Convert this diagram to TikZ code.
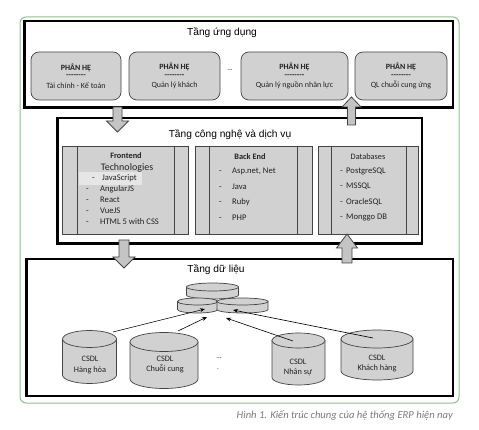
\documentclass[tikz,border=0pt]{standalone}
\usepackage{fontspec}
\setmainfont{Carlito}
\newfontfamily\arialfont{Liberation Sans}
\usepackage{tikz}
\usetikzlibrary{positioning,arrows.meta}

\definecolor{framegreen}{HTML}{8DC08D}
\definecolor{boxgray}{HTML}{D1D1D1}
\definecolor{edgegray}{HTML}{444444}
\definecolor{arrowgray}{HTML}{C4C4C4}
\definecolor{capgray}{HTML}{7A7A7A}
\definecolor{textgray}{HTML}{222222}

% dashes without the TeX ligature
\newcommand{\sepline}{\textbf{-\kern0pt-\kern0pt-\kern0pt-\kern0pt-\kern0pt-\kern0pt-\kern0pt-}}

% database cylinder: name, cx, top y, half width, ellipse ry, body height
\newcommand{\dbcyl}[6]{%
  \filldraw[db] ({#2-#4},#3) -- ({#2-#4},{#3+#6}) arc (180:360:#4pt and #5pt) -- ({#2+#4},#3) -- cycle;
  \filldraw[db] (#2,#3) ellipse (#4pt and #5pt);
  \coordinate (#1) at (#2,#3);
}

\tikzset{
  layerbox/.style={draw=black, line width=2.5pt, fill=white, inner sep=0pt},
  layertitle/.style={font=\arialfont\fontsize{10.2}{12}\selectfont, inner sep=0pt},
  module/.style={draw=edgegray, fill=boxgray, rounded corners=8pt, line width=0.7pt,
    minimum height=48pt, align=center, inner sep=0pt, text=textgray,
    font=\fontsize{8}{9}\selectfont},
  panelbox/.style={draw=edgegray, fill=boxgray, line width=0.6pt, minimum height=88pt, inner sep=0pt},
  paneltitle/.style={inner sep=0pt, text=textgray},
  item/.style={anchor=west, inner sep=0pt, text height=5.5pt, text depth=1.5pt,
    text=textgray, font=\fontsize{8.6}{10}\selectfont},
  blockarrow/.style={draw=edgegray, fill=arrowgray, line width=0.8pt},
  db/.style={draw=edgegray, fill=boxgray, line width=0.7pt},
  dblabel/.style={align=center, inner sep=0pt, text=textgray, font=\fontsize{8.3}{10.5}\selectfont},
  link/.style={-{Stealth[length=5pt,width=4pt]}, line width=0.6pt},
  smalldots/.style={inner sep=0pt, text=textgray, font=\fontsize{7}{8}\selectfont},
  caption/.style={inner sep=0pt, text=capgray, font=\itshape\fontsize{10.6}{12}\selectfont}
}

\begin{document}
\begin{tikzpicture}[x=1pt,y=-1pt]
\useasboundingbox (0,0) rectangle (479,430);

% outer frame
\draw[framegreen, line width=1pt, fill=white, rounded corners=6pt] (20,17) rectangle (459,403);

% layers
\node[layerbox, minimum width=428.5pt, minimum height=86.5pt] (app) at (238.5,64.5) {};
\node[layerbox, minimum width=364.5pt, minimum height=125.5pt] (tech) at (239.5,181) {};
\node[layerbox, minimum width=426.5pt, minimum height=136.5pt] (data) at (239.5,327.5) {};

\node[layertitle] (apptitle) at (222,33) {Tầng ứng dụng};
\node[layertitle] (techtitle) at (230,135) {Tầng công nghệ và dịch vụ};
\node[layertitle] (datatitle) at (216,270) {Tầng dữ liệu};

% application modules
\node[module, minimum width=90pt] (m1) at (76,76) {\textbf{PHÂN HỆ}\\[-1.5pt]\sepline\\[1.5pt]Tài chính - Kế toán};
\node[module, minimum width=91pt] (m2) at (174.5,76) {\textbf{PHÂN HỆ}\\[-1.5pt]\sepline\\[1.5pt]Quản lý khách};
\node[smalldots] (mdots) at (230,70) {\dots};
\node[module, minimum width=107pt] (m3) at (294.5,76) {\textbf{PHÂN HỆ}\\[-1.5pt]\sepline\\[1.5pt]Quản lý nguồn nhân lực};
\node[module, minimum width=92pt] (m4) at (401,76) {\textbf{PHÂN HỆ}\\[-1.5pt]\sepline\\[1.5pt]QL chuỗi cung ứng};

% technology panels
\node[panelbox, minimum width=126pt] (fe) at (125,190) {};
\node[panelbox, minimum width=117pt] (be) at (253.5,190) {};
\node[panelbox, minimum width=100pt] (dbs) at (368,190) {};
\draw[edgegray, line width=0.6pt] ([xshift=16pt]fe.north west) -- ([xshift=16pt]fe.south west)
  ([xshift=-14pt]fe.north east) -- ([xshift=-14pt]fe.south east);
\draw[edgegray, line width=0.6pt] ([xshift=15pt]be.north west) -- ([xshift=15pt]be.south west)
  ([xshift=-15pt]be.north east) -- ([xshift=-15pt]be.south east);
\draw[edgegray, line width=0.6pt] ([xshift=14pt]dbs.north west) -- ([xshift=14pt]dbs.south west)
  ([xshift=-12pt]dbs.north east) -- ([xshift=-12pt]dbs.south east);
\fill[boxgray!55!white] (78.5,172.5) rectangle (142,185.5);

\node[paneltitle, font=\bfseries\fontsize{8.3}{10}\selectfont] (fehead) at (126,156) {Frontend};
\node[paneltitle, font=\fontsize{10}{11}\selectfont] (fetech) at (127,168) {Technologies};
\node[item] (fedash0) at (92,179) {-};
\node[item] (fe0) at (102,179) {JavaScript};
\foreach \txt [count=\i] in {AngularJS,React,VueJS,HTML 5 with CSS} {
  \node[item] (fedash\i) at (86,{179+\i*10.8}) {-};
  \node[item] (fe\i) at (100,{179+\i*10.8}) {\txt};
}

\node[paneltitle, font=\bfseries\fontsize{8.3}{10}\selectfont] (behead) at (250,157) {Back End};
\foreach \txt [count=\i] in {{Asp.net, Net},Java,Ruby,PHP} {
  \node[item] (bedash\i) at (219,{156.5+\i*15.4}) {-};
  \node[item] (be\i) at (232,{156.5+\i*15.4}) {\txt};
}

\node[paneltitle, font=\fontsize{8.3}{10}\selectfont] (dbhead) at (368,157) {Databases};
\foreach \txt [count=\i] in {PostgreSQL,MSSQL,OracleSQL,Monggo DB} {
  \node[item] (dbdash\i) at (340,{155.5+\i*15.6}) {-};
  \node[item] (db\i) at (346,{155.5+\i*15.6}) {\txt};
}

% block arrows between layers
\filldraw[blockarrow] (113,107) -- (122,107) -- (122,121) -- (128.5,121) -- (117.5,132) -- (106.5,121) -- (113,121) -- cycle;
\filldraw[blockarrow] (347.5,125) -- (347.5,107) -- (342,107) -- (351.5,97) -- (361,107) -- (355.5,107) -- (355.5,125) -- cycle;
\filldraw[blockarrow] (119,240) -- (129,240) -- (129,257) -- (135,257) -- (124,268) -- (113,257) -- (119,257) -- cycle;
\filldraw[blockarrow] (342,263) -- (342,248) -- (336.5,248) -- (347,234) -- (357.5,248) -- (352,248) -- (352,263) -- cycle;

% central database cluster
\dbcyl{ctop}{212.5}{287}{26}{4}{8}
\dbcyl{cleft}{197.5}{301.5}{20}{3.5}{8}
\dbcyl{cright}{242.5}{301.5}{25.5}{3.5}{8}

% source databases
\dbcyl{hh}{89.5}{339}{27}{8.5}{36}
\dbcyl{cc}{164}{342}{34}{9.5}{37}
\dbcyl{ns}{298.5}{340.5}{26.5}{7.5}{37}
\dbcyl{kh}{377}{339}{36}{9}{32}

\node[dblabel] (hhtext) at (90,365) {CSDL\\Hàng hóa};
\node[dblabel] (cctext) at (165,364.5) {CSDL\\Chuỗi cung};
\node[dblabel] (nstext) at (298,367.5) {CSDL\\Nhân sự};
\node[dblabel] (khtext) at (377,363.5) {CSDL\\Khách hàng};
\node[smalldots] (ddots) at (219,358) {\dots};
\node[smalldots] (ddot) at (218,369) {.};

% links into the cluster
\coordinate (hhout) at (113,332);
\coordinate (ccout) at (178,331);
\coordinate (nsout) at (293,341);
\coordinate (khout) at (373,338);
\coordinate (hhin) at (205,309);
\coordinate (ccin) at (207,317);
\coordinate (nsin) at (226,318);
\coordinate (khin) at (233,310);
\draw[link] (hhout) -- (hhin);
\draw[link] (ccout) -- (ccin);
\draw[link] (nsout) -- (nsin);
\draw[link] (khout) -- (khin);

\node[caption, anchor=base east] (cap) at (453,418) {Hình 1. Kiến trúc chung của hệ thống ERP hiện nay};
\end{tikzpicture}
\end{document}
